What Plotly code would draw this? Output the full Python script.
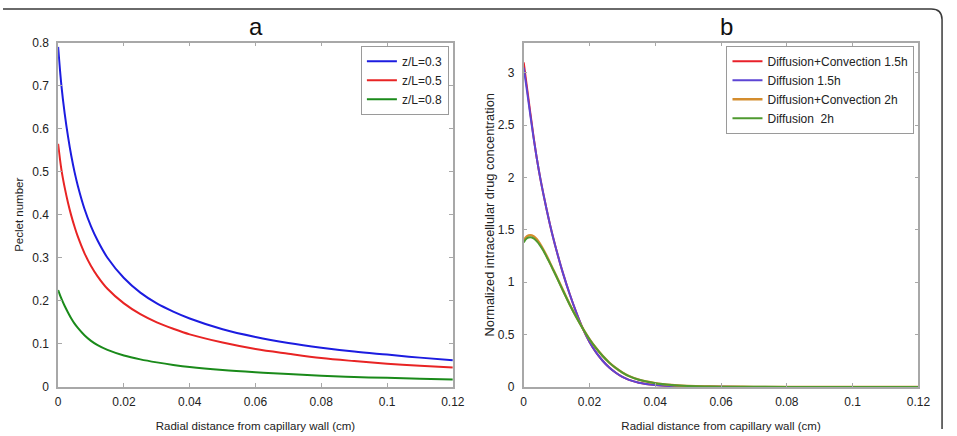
import plotly.graph_objects as go

W, H = 957, 436


def fx(p):
    return p / W


def fy(p):
    return 1 - p / H


# ---------------- data: panel a (Peclet number) ----------------
radial_a = [0, 0.001, 0.002, 0.003, 0.004, 0.005, 0.006, 0.008, 0.01, 0.012, 0.015,
            0.02, 0.025, 0.03, 0.035, 0.04, 0.05, 0.06, 0.07, 0.08, 0.09, 0.1, 0.11, 0.12]
peclet_z03 = [0.79, 0.70, 0.635, 0.582, 0.537, 0.499, 0.467, 0.414, 0.373, 0.340, 0.300,
              0.253, 0.219, 0.194, 0.175, 0.159, 0.134, 0.116, 0.102, 0.091, 0.082, 0.075,
              0.068, 0.062]
peclet_z05 = [0.565, 0.505, 0.463, 0.428, 0.398, 0.372, 0.349, 0.311, 0.281, 0.257, 0.228,
              0.194, 0.169, 0.150, 0.135, 0.122, 0.103, 0.088, 0.077, 0.067, 0.060, 0.054,
              0.049, 0.045]
peclet_z08 = [0.225, 0.205, 0.188, 0.173, 0.159, 0.147, 0.137, 0.120, 0.107, 0.097, 0.086,
              0.073, 0.064, 0.057, 0.051, 0.046, 0.039, 0.034, 0.030, 0.026, 0.023, 0.021,
              0.019, 0.017]

# ---------------- data: panel b (normalized concentration) ----------------
radial_b = [0, 0.001, 0.002, 0.003, 0.004, 0.005, 0.006, 0.007, 0.008, 0.009, 0.01,
            0.012, 0.014, 0.016, 0.018, 0.02, 0.022, 0.024, 0.026, 0.028, 0.03, 0.032,
            0.035, 0.04, 0.045, 0.05, 0.055, 0.06, 0.07, 0.08, 0.1, 0.12]
conc_dc_15h = [3.10, 2.86, 2.62, 2.39, 2.18, 2.0, 1.84, 1.69, 1.55, 1.42, 1.30,
               1.08, 0.885, 0.71, 0.555, 0.43, 0.33, 0.25, 0.185, 0.135, 0.095, 0.067,
               0.040, 0.018, 0.008, 0.003, 0.0012, 0.0005, 0, 0, 0, 0]
conc_d_15h = [3.05, 2.83, 2.60, 2.38, 2.18, 2.0, 1.84, 1.69, 1.55, 1.42, 1.30,
              1.08, 0.885, 0.71, 0.555, 0.43, 0.33, 0.25, 0.185, 0.135, 0.095, 0.067,
              0.040, 0.018, 0.008, 0.003, 0.0012, 0.0005, 0, 0, 0, 0]
conc_dc_2h = [1.40, 1.44, 1.45, 1.44, 1.41, 1.365, 1.31, 1.25, 1.185, 1.12, 1.055,
              0.92, 0.788, 0.668, 0.557, 0.457, 0.371, 0.296, 0.233, 0.181, 0.138, 0.104,
              0.069, 0.036, 0.018, 0.009, 0.004, 0.002, 0.0005, 0, 0, 0]
conc_d_2h = [1.38, 1.42, 1.43, 1.42, 1.39, 1.35, 1.30, 1.24, 1.18, 1.115, 1.05,
             0.915, 0.785, 0.665, 0.555, 0.455, 0.37, 0.295, 0.232, 0.18, 0.137, 0.103,
             0.068, 0.035, 0.018, 0.009, 0.004, 0.002, 0.0005, 0, 0, 0]

FONT = "Liberation Sans, Arial, sans-serif"

fig = go.Figure()

line_kw = dict(shape="spline", smoothing=1.0)

fig.add_trace(go.Scatter(x=radial_a, y=peclet_z03, mode="lines", name="z/L=0.3",
                         line=dict(color="#1c1ce0", width=2, **line_kw),
                         xaxis="x", yaxis="y", legend="legend"))
fig.add_trace(go.Scatter(x=radial_a, y=peclet_z05, mode="lines", name="z/L=0.5",
                         line=dict(color="#e82424", width=2, **line_kw),
                         xaxis="x", yaxis="y", legend="legend"))
fig.add_trace(go.Scatter(x=radial_a, y=peclet_z08, mode="lines", name="z/L=0.8",
                         line=dict(color="#1a8a1a", width=2, **line_kw),
                         xaxis="x", yaxis="y", legend="legend"))

fig.add_trace(go.Scatter(x=radial_b, y=conc_dc_15h, mode="lines", name="Diffusion+Convection 1.5h",
                         line=dict(color="#e8202a", width=2, **line_kw),
                         xaxis="x2", yaxis="y2", legend="legend2"))
fig.add_trace(go.Scatter(x=radial_b, y=conc_d_15h, mode="lines", name="Diffusion 1.5h",
                         line=dict(color="#5d45d4", width=2, **line_kw),
                         xaxis="x2", yaxis="y2", legend="legend2"))
fig.add_trace(go.Scatter(x=radial_b, y=conc_dc_2h, mode="lines", name="Diffusion+Convection 2h",
                         line=dict(color="#d48d2e", width=2.4, **line_kw),
                         xaxis="x2", yaxis="y2", legend="legend2"))
fig.add_trace(go.Scatter(x=radial_b, y=conc_d_2h, mode="lines", name="Diffusion  2h",
                         line=dict(color="#4f9a30", width=2, **line_kw),
                         xaxis="x2", yaxis="y2", legend="legend2"))

axis_common = dict(showline=True, linecolor="#a8a8a8", linewidth=1.5, mirror="ticks",
                   ticks="inside", ticklen=4, tickcolor="#a8a8a8", tickwidth=1,
                   showgrid=False, zeroline=False,
                   tickfont=dict(family=FONT, size=12, color="#222"))

ydom = [fy(392.5), fy(36.8)]
title_font = dict(family=FONT, size=11.5, color="#222")

fig.update_layout(
    width=W, height=H,
    margin=dict(l=0, r=0, t=0, b=0),
    paper_bgcolor="white", plot_bgcolor="white",
    font=dict(family=FONT, color="#222"),
    xaxis=dict(domain=[fx(56), fx(457)], range=[0, 0.12], dtick=0.02, anchor="y",
               title=dict(text="Radial distance from capillary wall (cm)", standoff=14,
                          font=title_font),
               ticklabelstandoff=3, **axis_common),
    yaxis=dict(domain=ydom, range=[0, 0.8], dtick=0.1, anchor="x",
               title=dict(text="Peclet number", standoff=6, font=title_font),
               ticklabelstandoff=5, **axis_common),
    xaxis2=dict(domain=[fx(529), fx(930)], range=[0, 0.12], dtick=0.02, anchor="y2",
                title=dict(text="Radial distance from capillary wall (cm)", standoff=14,
                           font=title_font),
                ticklabelstandoff=3, **axis_common),
    yaxis2=dict(domain=ydom, range=[0, 3.29], dtick=0.5, anchor="x2",
                title=dict(text="Normalized intracellular drug concentration", standoff=0,
                           font=dict(family=FONT, size=12.8, color="#222")),
                ticklabelstandoff=5, **axis_common),
    legend=dict(x=fx(453), y=fy(40), xanchor="right", yanchor="top",
                bgcolor="white", bordercolor="#9a9a9a", borderwidth=1,
                font=dict(family=FONT, size=12, color="#222"),
                tracegroupgap=0, itemwidth=30),
    legend2=dict(x=fx(926), y=fy(40), xanchor="right", yanchor="top",
                 bgcolor="white", bordercolor="#9a9a9a", borderwidth=1,
                 font=dict(family=FONT, size=12, color="#222"),
                 tracegroupgap=0, itemwidth=30),
    showlegend=True,
    annotations=[
        dict(text="a", x=fx(257), y=fy(36), xref="paper", yref="paper",
             xanchor="center", yanchor="bottom", showarrow=False,
             font=dict(family=FONT, size=24, color="#111")),
        dict(text="b", x=fx(735), y=fy(36), xref="paper", yref="paper",
             xanchor="center", yanchor="bottom", showarrow=False,
             font=dict(family=FONT, size=24, color="#111")),
    ],
    shapes=[
        dict(type="path", xref="paper", yref="paper",
             path=f"M {fx(0)},{fy(2)} L {fx(943)},{fy(2)} Q {fx(954)},{fy(2)} {fx(954)},{fy(13)} L {fx(954)},{fy(436)}",
             line=dict(color="#3a3a3a", width=1.5)),
    ],
)

fig.write_html("out.html")
